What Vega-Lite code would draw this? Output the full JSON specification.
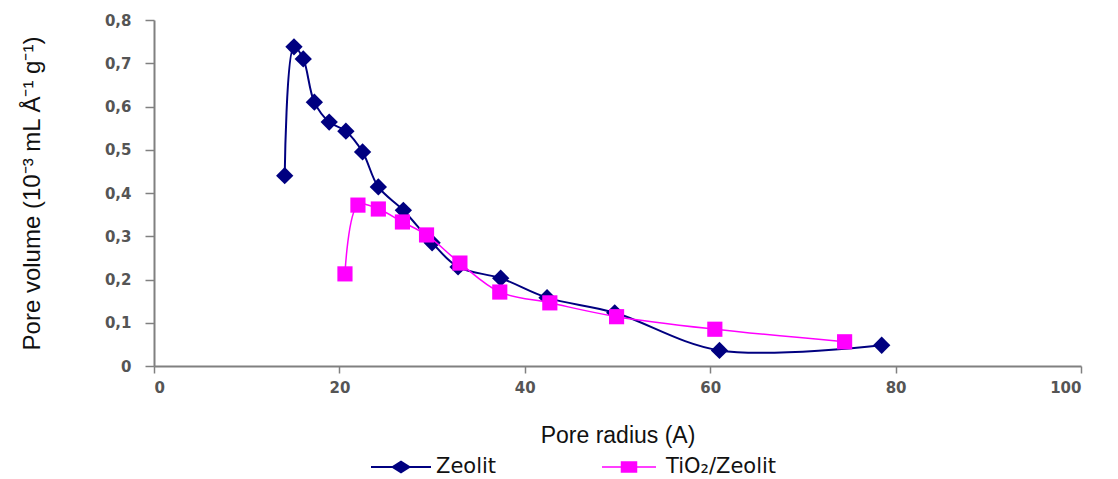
{
  "$schema": "https://vega.github.io/schema/vega-lite/v6.json",
  "width": 927,
  "height": 346,
  "autosize": "none",
  "padding": {"left": 154, "top": 20, "right": 37, "bottom": 113},
  "background": "white",
  "config": {
    "view": {"stroke": null},
    "font": "Liberation Sans"
  },
  "datasets": {
    "zeo": [
      {"x": 14.1, "y": 0.44, "series": "Zeolit"},
      {"x": 15.1, "y": 0.738, "series": "Zeolit"},
      {"x": 16.1, "y": 0.71, "series": "Zeolit"},
      {"x": 17.3, "y": 0.61, "series": "Zeolit"},
      {"x": 18.9, "y": 0.564, "series": "Zeolit"},
      {"x": 20.7, "y": 0.543, "series": "Zeolit"},
      {"x": 22.5, "y": 0.495, "series": "Zeolit"},
      {"x": 24.2, "y": 0.414, "series": "Zeolit"},
      {"x": 26.9, "y": 0.36, "series": "Zeolit"},
      {"x": 30.0, "y": 0.285, "series": "Zeolit"},
      {"x": 32.8, "y": 0.229, "series": "Zeolit"},
      {"x": 37.4, "y": 0.203, "series": "Zeolit"},
      {"x": 42.4, "y": 0.158, "series": "Zeolit"},
      {"x": 49.7, "y": 0.123, "series": "Zeolit"},
      {"x": 61.0, "y": 0.036, "series": "Zeolit"},
      {"x": 78.5, "y": 0.048, "series": "Zeolit"}
    ],
    "tio": [
      {"x": 20.6, "y": 0.213, "series": "TiO₂/Zeolit"},
      {"x": 22.0, "y": 0.372, "series": "TiO₂/Zeolit"},
      {"x": 24.2, "y": 0.363, "series": "TiO₂/Zeolit"},
      {"x": 26.8, "y": 0.333, "series": "TiO₂/Zeolit"},
      {"x": 29.4, "y": 0.303, "series": "TiO₂/Zeolit"},
      {"x": 33.0, "y": 0.238, "series": "TiO₂/Zeolit"},
      {"x": 37.3, "y": 0.171, "series": "TiO₂/Zeolit"},
      {"x": 42.7, "y": 0.146, "series": "TiO₂/Zeolit"},
      {"x": 49.9, "y": 0.114, "series": "TiO₂/Zeolit"},
      {"x": 60.5, "y": 0.085, "series": "TiO₂/Zeolit"},
      {"x": 74.5, "y": 0.056, "series": "TiO₂/Zeolit"}
    ]
  },
  "encoding": {
    "x": {
      "field": "x",
      "type": "quantitative",
      "scale": {"domain": [0, 100], "nice": false, "zero": false},
      "axis": {
        "title": "Pore radius (A)",
        "values": [0, 20, 40, 60, 80, 100],
        "grid": false,
        "domainColor": "#808080",
        "domainWidth": 2,
        "tickColor": "#808080",
        "tickWidth": 1.5,
        "tickSize": 7,
        "labelFont": "DejaVu Sans",
        "labelFontSize": 15,
        "labelFontWeight": "bold",
        "labelColor": "#555555",
        "labelPadding": 7,
        "titleFont": "Liberation Sans",
        "titleFontSize": 23,
        "titleFontWeight": "normal",
        "titleColor": "#111111",
        "titlePadding": 29
      }
    },
    "y": {
      "field": "y",
      "type": "quantitative",
      "scale": {"domain": [0, 0.8], "nice": false},
      "axis": {
        "title": "Pore volume (10⁻³ mL Å⁻¹ g⁻¹)",
        "values": [0, 0.1, 0.2, 0.3, 0.4, 0.5, 0.6, 0.7, 0.8],
        "labelExpr": "datum.value == 0 ? '0' : replace(format(datum.value, '.1f'), '.', ',')",
        "grid": false,
        "domainColor": "#808080",
        "domainWidth": 2,
        "tickColor": "#808080",
        "tickWidth": 1.5,
        "tickSize": 9,
        "labelFont": "DejaVu Sans",
        "labelFontSize": 15,
        "labelFontWeight": "bold",
        "labelColor": "#555555",
        "labelPadding": 14,
        "titleFont": "Liberation Sans",
        "titleFontSize": 24,
        "titleFontWeight": "normal",
        "titleColor": "#111111",
        "titlePadding": 60
      }
    }
  },
  "layer": [
    {
      "data": {"name": "zeo"},
      "mark": {
        "type": "line",
        "interpolate": "catmull-rom",
        "strokeWidth": 2,
        "point": {"shape": "diamond", "filled": true, "size": 300, "color": "#000066"}
      },
      "encoding": {
        "color": {
          "field": "series",
          "type": "nominal",
          "scale": {"domain": ["Zeolit"], "range": ["#000080"]},
          "legend": {
            "title": null,
            "orient": "none",
            "legendX": 216,
            "legendY": 416,
            "direction": "horizontal",
            "symbolType": "M-1,0H1M-0.28,0L0,-0.18L0.28,0L0,0.18Z",
            "symbolSize": 3600,
            "symbolFillColor": "#000066",
            "symbolStrokeColor": "#000080",
            "symbolStrokeWidth": 2,
            "labelFont": "DejaVu Sans",
            "labelFontSize": 21,
            "labelColor": "#111111",
            "labelOffset": 4
          }
        }
      }
    },
    {
      "data": {"name": "tio"},
      "mark": {
        "type": "line",
        "interpolate": "catmull-rom",
        "strokeWidth": 1.5,
        "point": {"shape": "square", "filled": true, "size": 230, "color": "#ff00ff"}
      },
      "encoding": {
        "color": {
          "field": "series",
          "type": "nominal",
          "scale": {"domain": ["TiO₂/Zeolit"], "range": ["#ff00ff"]},
          "legend": {
            "title": null,
            "orient": "none",
            "legendX": 444,
            "legendY": 416,
            "direction": "horizontal",
            "symbolType": "M-0.9,0H0.9M-0.25,-0.17H0.25V0.17H-0.25Z",
            "symbolSize": 3600,
            "symbolFillColor": "#ff00ff",
            "symbolStrokeColor": "#ff00ff",
            "symbolStrokeWidth": 1.5,
            "labelFont": "DejaVu Sans",
            "labelFontSize": 21,
            "labelColor": "#111111",
            "labelOffset": 6
          }
        }
      }
    }
  ],
  "resolve": {"scale": {"color": "independent"}, "legend": {"color": "independent"}}
}
